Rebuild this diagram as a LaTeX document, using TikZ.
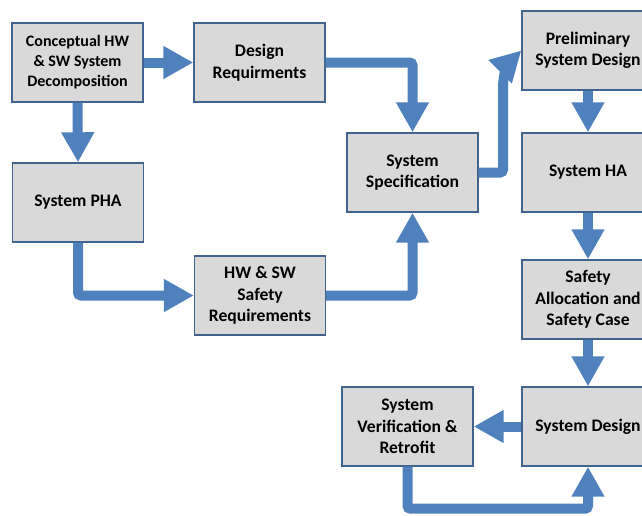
\documentclass[tikz,border=0pt]{standalone}
\usepackage{fontspec}
\setmainfont{Carlito}
\usetikzlibrary{arrows.meta,calc}
\definecolor{arrowblue}{HTML}{4F81BD}
\definecolor{boxfill}{HTML}{D9D9D9}
\definecolor{boxline}{HTML}{41648F}
\begin{document}
\begin{tikzpicture}[x=1pt,y=-1pt,
  stepbox/.style={draw=boxline, line width=1.4pt, fill=boxfill, minimum width=131pt, minimum height=79pt, inner sep=1pt, align=center, font=\fontsize{17.6}{21.5}\selectfont\bfseries},
  smalltext/.style={font=\fontsize{16}{20}\selectfont\bfseries},
  widebox/.style={stepbox, minimum width=132pt},
  flow/.style={draw=arrowblue, line width=10pt, rounded corners=3pt, -{Triangle[length=30pt,width=31pt]}}]
\useasboundingbox (0,0) rectangle (642,515);
\begin{scope}
\clip (0,0) rectangle (642,515);
\node[stepbox, smalltext] (concept) at (77.5,62.5) {Conceptual HW\\ \& SW System\\ Decomposition};
\node[stepbox] (design) at (259.5,62.5) {Design\\ Requirments};
\node[stepbox] (pha) at (78,202.5) {System PHA};
\node[stepbox] (hwsw) at (260,295.5) {HW \& SW\\ Safety\\ Requirements};
\node[stepbox] (spec) at (412.5,172.5) {System\\ Specification};
\node[widebox] (prelim) at (588,50.5) {Preliminary\\ System Design};
\node[widebox] (ha) at (588,172.5) {System HA};
\node[widebox] (alloc) at (588,299.5) {Safety\\ Allocation and\\ Safety Case};
\node[widebox] (sysdes) at (588,426.5) {System Design};
\node[stepbox] (verif) at (407.5,426.5) {System\\ Verification \&\\ Retrofit};
\coordinate (bend) at (503,172.5);
\coordinate (bendtop) at (503,90);
\coordinate (low) at ($(verif.south)+(0,42)$);
\draw[flow] (concept.east) -- (design.west);
\draw[flow] (concept.south) -- (pha.north);
\draw[flow] (design.east) -| (spec.north);
\draw[flow] (pha.south) |- (hwsw.west);
\draw[flow] (hwsw.east) -| (spec.south);
\draw[flow] (spec.east) -- (bend) -- (bendtop) to[out=90,in=225] (prelim.west);
\draw[flow] (prelim.south) -- (ha.north);
\draw[flow] (ha.south) -- (alloc.north);
\draw[flow] (alloc.south) -- (sysdes.north);
\draw[flow] (sysdes.west) -- (verif.east);
\draw[flow] (verif.south) -- (low) -| (sysdes.south);
\end{scope}
\end{tikzpicture}
\end{document}
